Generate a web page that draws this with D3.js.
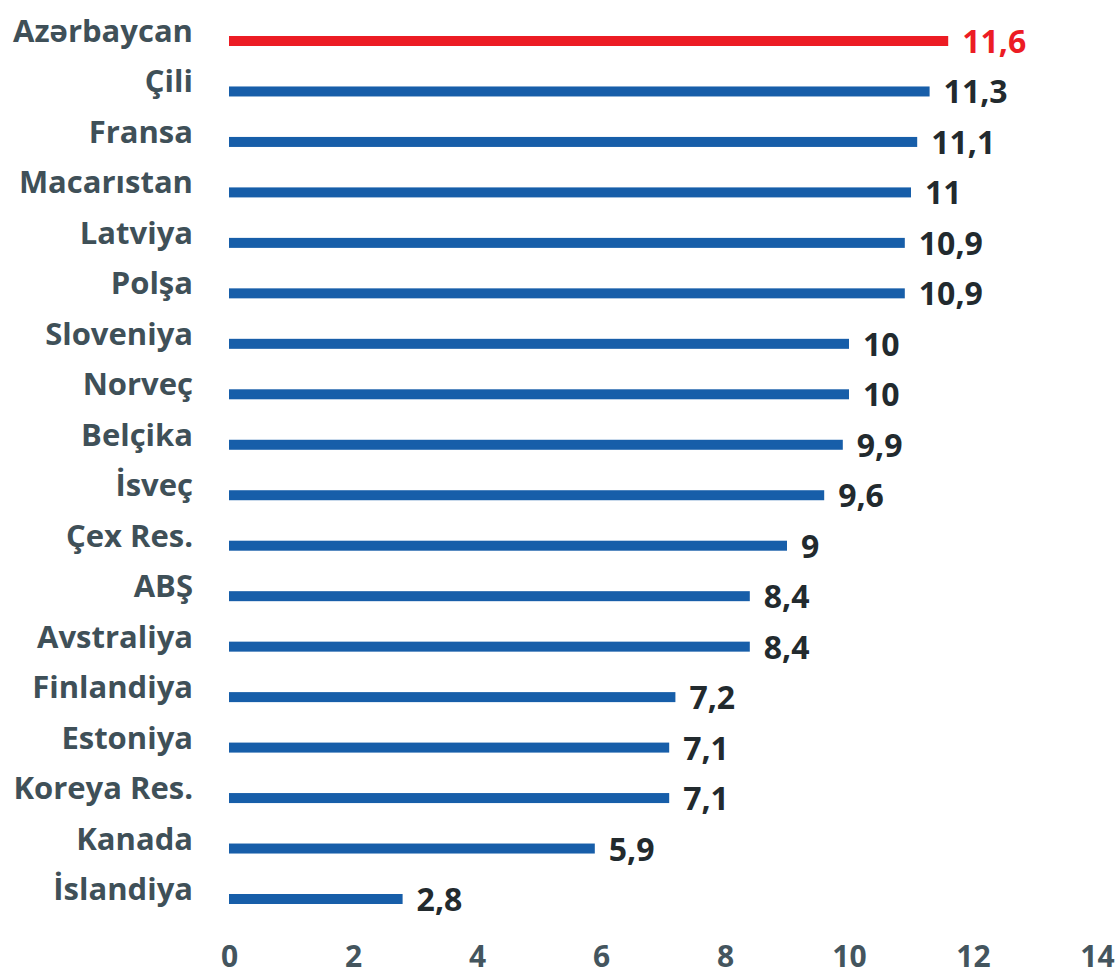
<!DOCTYPE html>
<html>
<head>
<meta charset="utf-8">
<script src="https://cdn.jsdelivr.net/npm/d3@7"></script>
<style>
  body { margin: 0; background: #fff; }
  text { font-family: "Open Sans", "Noto Sans", sans-serif; font-weight: 700; }
</style>
</head>
<body>
<script>
const countries = ["Azərbaycan", "Çili", "Fransa", "Macarıstan", "Latviya", "Polşa", "Sloveniya",
  "Norveç", "Belçika", "İsveç", "Çex Res.", "ABŞ", "Avstraliya", "Finlandiya", "Estoniya",
  "Koreya Res.", "Kanada", "İslandiya"];
const values = [11.6, 11.3, 11.1, 11, 10.9, 10.9, 10, 10, 9.9, 9.6, 9, 8.4, 8.4, 7.2, 7.1, 7.1, 5.9, 2.8];
const valueLabels = ["11,6", "11,3", "11,1", "11", "10,9", "10,9", "10", "10", "9,9", "9,6", "9",
  "8,4", "8,4", "7,2", "7,1", "7,1", "5,9", "2,8"];
const xTicks = [0, 2, 4, 6, 8, 10, 12, 14];
const highlight = "Azərbaycan";

const width = 1119, height = 976;
const blue = "#175ea9", red = "#ec1c24";

const svg = d3.select("body").append("svg")
    .attr("width", width)
    .attr("height", height);

const x = d3.scaleLinear().domain([0, 14]).range([229, 1097]);
const y = d3.scalePoint().domain(countries).range([41, 899]);

const rows = countries.map((c, i) => ({name: c, value: values[i], label: valueLabels[i]}));

// bars
svg.append("g").selectAll("rect")
  .data(rows)
  .join("rect")
    .attr("x", x(0))
    .attr("y", d => y(d.name) - 5)
    .attr("width", d => x(d.value) - x(0))
    .attr("height", 10)
    .attr("fill", d => d.name === highlight ? red : blue);

// category labels
svg.append("g").selectAll("text")
  .data(rows)
  .join("text")
    .attr("x", 193)
    .attr("y", d => y(d.name) + 1)
    .attr("text-anchor", "end")
    .attr("font-size", 31)
    .attr("fill", "#3f5058")
    .text(d => d.name);

// value labels
svg.append("g").selectAll("text")
  .data(rows)
  .join("text")
    .attr("x", d => x(d.value) + 14)
    .attr("y", d => y(d.name) + 12)
    .attr("font-size", 32)
    .attr("fill", d => d.name === highlight ? red : "#222a2e")
    .text(d => d.label);

// x axis (labels only)
const axis = svg.append("g")
    .attr("transform", "translate(0,937)")
    .call(d3.axisBottom(x).tickValues(xTicks).tickSize(0).tickPadding(0).tickFormat(d3.format("d")));
axis.select(".domain").remove();
axis.selectAll("text")
    .attr("dy", "1.0em")
    .attr("font-size", 30)
    .attr("font-family", "Open Sans, sans-serif")
    .attr("font-weight", 700)
    .attr("fill", "#44555e");
</script>
</body>
</html>
